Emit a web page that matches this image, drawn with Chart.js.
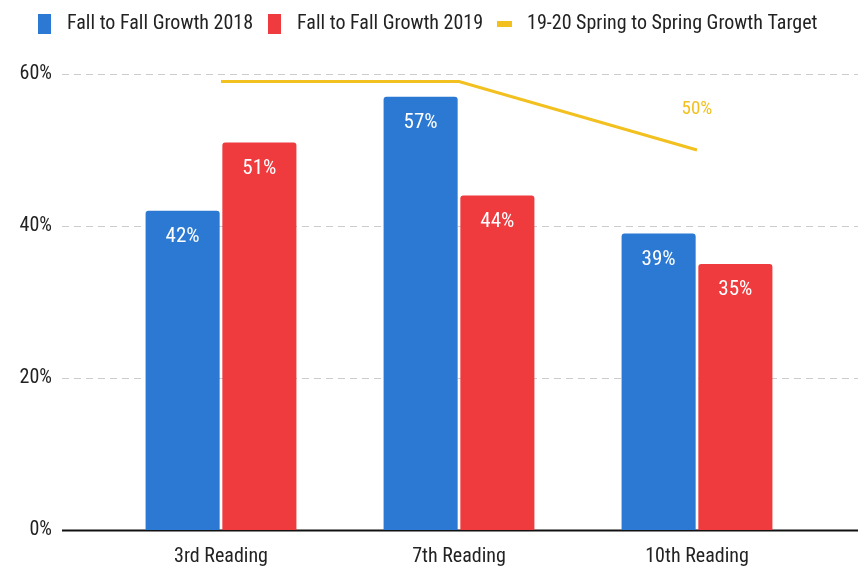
<!DOCTYPE html>
<html>
<head>
<meta charset="utf-8">
<script src="https://cdn.jsdelivr.net/npm/chart.js@4.4.1/dist/chart.umd.min.js"></script>
<style>
html,body{margin:0;padding:0;background:#fff;}
#wrap{width:863px;height:570px;position:relative;}
</style>
</head>
<body>
<div id="wrap"><canvas id="c" width="863" height="570"></canvas></div>
<script>
const categories = ['3rd Reading', '7th Reading', '10th Reading'];
const growth2018 = [42, 57, 39];
const growth2019 = [51, 44, 35];
const target = [59, 59, 50];
const yTicks = [0, 20, 40, 60];
const seriesNames = ['Fall to Fall Growth 2018', 'Fall to Fall Growth 2019', '19-20 Spring to Spring Growth Target'];

const FONT = '"Roboto Condensed", Roboto, sans-serif';
const BLUE = '#2b79d3', RED = '#ef3a3e', YELLOW = '#f2c01f';

function swatch(w, h, color) {
  const c = document.createElement('canvas');
  c.width = w; c.height = h;
  const g = c.getContext('2d');
  g.fillStyle = color;
  g.fillRect(0, 0, w, h);
  return c;
}
const swatches = [swatch(13, 20, BLUE), swatch(13, 20, RED), swatch(15, 6, YELLOW)];

const legendFix = {
  id: 'legendFix',
  afterInit(chart) {
    const lg = chart.legend;
    if (!lg) return;
    const origFit = lg.fit.bind(lg);
    lg.fit = function () { origFit(); this.height = 74; };
    const origDraw = lg.draw.bind(lg);
    lg.draw = function () {
      const c = this.ctx;
      c.save();
      c.translate(23, 5);
      origDraw();
      c.restore();
    };
  }
};

const gridPlugin = {
  id: 'extGrid',
  beforeDatasetsDraw(chart) {
    const ctx = chart.ctx, y = chart.scales.y;
    ctx.save();
    yTicks.forEach(v => {
      const py = Math.round(y.getPixelForValue(v)) + 0.5;
      ctx.beginPath();
      if (v === 0) {
        ctx.setLineDash([]);
        ctx.strokeStyle = '#111';
        ctx.lineWidth = 2;
      } else {
        ctx.setLineDash([7, 5]);
        ctx.strokeStyle = '#cccccc';
        ctx.lineWidth = 1;
      }
      ctx.moveTo(62, py);
      ctx.lineTo(858, py);
      ctx.stroke();
    });
    ctx.restore();
  }
};

const labelPlugin = {
  id: 'valLabels',
  afterDatasetsDraw(chart) {
    const ctx = chart.ctx;
    ctx.save();
    ctx.textAlign = 'center';
    ctx.textBaseline = 'middle';
    ctx.font = '21px ' + FONT;
    [0, 1].forEach(di => {
      const meta = chart.getDatasetMeta(di);
      meta.data.forEach((bar, i) => {
        ctx.fillStyle = '#ffffff';
        ctx.fillText(chart.data.datasets[di].data[i] + '%', bar.x, bar.y + 26);
      });
    });
    const lm = chart.getDatasetMeta(2);
    const last = lm.data[lm.data.length - 1];
    ctx.fillStyle = YELLOW;
    ctx.font = '19px ' + FONT;
    ctx.fillText(target[target.length - 1] + '%', last.x, last.y - 41);
    ctx.restore();
  }
};

new Chart(document.getElementById('c'), {
  type: 'bar',
  data: {
    labels: categories,
    datasets: [
      { label: seriesNames[0], data: growth2018, backgroundColor: BLUE, borderRadius: 3, borderSkipped: 'bottom', categoryPercentage: 0.645, barPercentage: 0.965, order: 2 },
      { label: seriesNames[1], data: growth2019, backgroundColor: RED, borderRadius: 3, borderSkipped: 'bottom', categoryPercentage: 0.645, barPercentage: 0.965, order: 2 },
      { type: 'line', label: seriesNames[2], data: target, borderColor: YELLOW, backgroundColor: YELLOW, borderWidth: 3, pointRadius: 0, tension: 0, order: 1 }
    ]
  },
  options: {
    responsive: false,
    animation: false,
    layout: { padding: { left: 0, right: 0, top: 0, bottom: 1 } },
    plugins: {
      tooltip: { enabled: false },
      legend: {
        position: 'top',
        align: 'start',
        labels: {
          usePointStyle: true,
          pointStyleWidth: 25,
          padding: 9,
          color: '#222',
          font: { family: FONT, size: 20 },
          generateLabels(chart) {
            return chart.data.datasets.map((ds, i) => ({
              text: ds.label,
              pointStyle: swatches[i],
              fillStyle: i === 0 ? BLUE : i === 1 ? RED : YELLOW,
              strokeStyle: 'transparent',
              lineWidth: 0,
              fontColor: '#222',
              datasetIndex: i,
              hidden: false
            }));
          }
        }
      }
    },
    scales: {
      x: {
        grid: { display: false, drawTicks: false },
        border: { display: false },
        afterFit(scale) { scale.height = 39; },
        ticks: { color: '#222', font: { family: FONT, size: 20 }, padding: 15, maxRotation: 0 }
      },
      y: {
        min: 0, max: 60,
        afterBuildTicks(scale) { scale.ticks = yTicks.map(v => ({ value: v })); },
        afterFit(scale) { scale.width = 102; scale.paddingTop = 11; scale.paddingBottom = 11; },
        grid: { display: false, drawTicks: false },
        border: { display: false },
        ticks: { color: '#222', font: { family: FONT, size: 20 }, padding: 50, callback: v => v + '%' }
      },
      yRight: {
        position: 'right',
        min: 0, max: 60,
        afterFit(scale) { scale.width = 47; scale.paddingTop = 0; scale.paddingBottom = 0; },
        grid: { display: false, drawTicks: false },
        border: { display: false },
        ticks: { display: false }
      }
    }
  },
  plugins: [legendFix, gridPlugin, labelPlugin]
});
</script>
</body>
</html>
